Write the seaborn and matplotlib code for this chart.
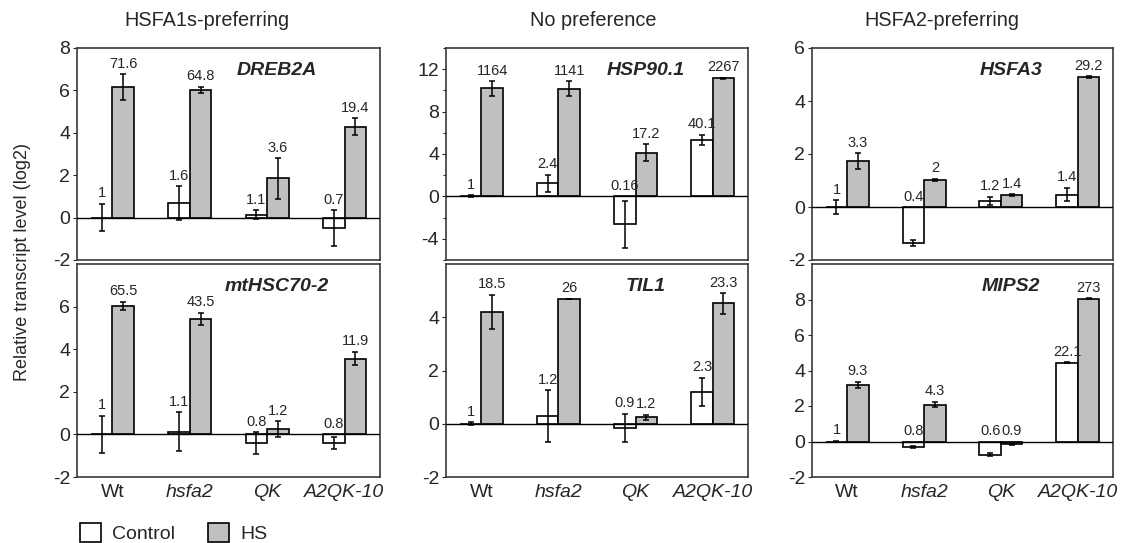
import numpy as np
import pandas as pd
import matplotlib
matplotlib.use("Agg")
import matplotlib.pyplot as plt
import seaborn as sns
from matplotlib.ticker import MultipleLocator, FixedLocator

# ---------------- data (log2 relative transcript level) ----------------
genotypes = ["Wt", "hsfa2", "QK", "A2QK-10"]
conditions = ["Control", "HS"]

# DREB2A
dreb2a_ctrl = [0.0, 0.68, 0.14, -0.51]
dreb2a_hs = [6.16, 6.02, 1.85, 4.28]
dreb2a_ctrl_err = [0.65, 0.80, 0.20, 0.85]
dreb2a_hs_err = [0.60, 0.15, 0.95, 0.40]
dreb2a_ctrl_lab = ["1", "1.6", "1.1", "0.7"]
dreb2a_hs_lab = ["71.6", "64.8", "3.6", "19.4"]

# HSP90.1
hsp90_ctrl = [0.0, 1.26, -2.64, 5.33]
hsp90_hs = [10.18, 10.16, 4.10, 11.15]
hsp90_ctrl_err = [0.10, 0.80, 2.20, 0.50]
hsp90_hs_err = [0.70, 0.70, 0.80, 0.05]
hsp90_ctrl_lab = ["1", "2.4", "0.16", "40.1"]
hsp90_hs_lab = ["1164", "1141", "17.2", "2267"]

# HSFA3
hsfa3_ctrl = [0.0, -1.35, 0.24, 0.47]
hsfa3_hs = [1.73, 1.02, 0.45, 4.90]
hsfa3_ctrl_err = [0.25, 0.12, 0.15, 0.25]
hsfa3_hs_err = [0.30, 0.04, 0.03, 0.03]
hsfa3_ctrl_lab = ["1", "0.4", "1.2", "1.4"]
hsfa3_hs_lab = ["3.3", "2", "1.4", "29.2"]

# mtHSC70-2
mthsc_ctrl = [0.0, 0.13, -0.40, -0.42]
mthsc_hs = [6.02, 5.43, 0.25, 3.56]
mthsc_ctrl_err = [0.88, 0.92, 0.50, 0.28]
mthsc_hs_err = [0.20, 0.28, 0.38, 0.32]
mthsc_ctrl_lab = ["1", "1.1", "0.8", "0.8"]
mthsc_hs_lab = ["65.5", "43.5", "1.2", "11.9"]

# TIL1
til1_ctrl = [0.0, 0.28, -0.16, 1.20]
til1_hs = [4.20, 4.69, 0.24, 4.52]
til1_ctrl_err = [0.05, 0.97, 0.53, 0.52]
til1_hs_err = [0.64, 0.0, 0.10, 0.38]
til1_ctrl_lab = ["1", "1.2", "0.9", "2.3"]
til1_hs_lab = ["18.5", "26", "1.2", "23.3"]

# MIPS2
mips2_ctrl = [0.0, -0.33, -0.75, 4.45]
mips2_hs = [3.18, 2.08, -0.14, 8.05]
mips2_ctrl_err = [0.05, 0.05, 0.08, 0.03]
mips2_hs_err = [0.18, 0.16, 0.05, 0.03]
mips2_ctrl_lab = ["1", "0.8", "0.6", "22.1"]
mips2_hs_lab = ["9.3", "4.3", "0.9", "273"]

column_titles = ["HSFA1s-preferring", "No preference", "HSFA2-preferring"]
ylabel = "Relative transcript level (log2)"

panels = [
    ("DREB2A", dreb2a_ctrl, dreb2a_hs, dreb2a_ctrl_err, dreb2a_hs_err, dreb2a_ctrl_lab, dreb2a_hs_lab),
    ("HSP90.1", hsp90_ctrl, hsp90_hs, hsp90_ctrl_err, hsp90_hs_err, hsp90_ctrl_lab, hsp90_hs_lab),
    ("HSFA3", hsfa3_ctrl, hsfa3_hs, hsfa3_ctrl_err, hsfa3_hs_err, hsfa3_ctrl_lab, hsfa3_hs_lab),
    ("mtHSC70-2", mthsc_ctrl, mthsc_hs, mthsc_ctrl_err, mthsc_hs_err, mthsc_ctrl_lab, mthsc_hs_lab),
    ("TIL1", til1_ctrl, til1_hs, til1_ctrl_err, til1_hs_err, til1_ctrl_lab, til1_hs_lab),
    ("MIPS2", mips2_ctrl, mips2_hs, mips2_ctrl_err, mips2_hs_err, mips2_ctrl_lab, mips2_hs_lab),
]
ylims = [(-2, 8), (-6, 14), (-2, 6), (-2, 8), (-2, 6), (-2, 10)]
yticks = [[-2, 0, 2, 4, 6, 8], [-4, 0, 4, 8, 12], [-2, 0, 2, 4, 6],
          [-2, 0, 2, 4, 6], [-2, 0, 2, 4], [-2, 0, 2, 4, 6, 8]]

# ---------------- style ----------------
sns.set_style("white")
plt.rcParams["font.family"] = ["Liberation Sans", "DejaVu Sans"]
plt.rcParams["axes.unicode_minus"] = False

W, H = 1131, 543
fig = plt.figure(figsize=(W / 100, H / 100), dpi=100)

col_left = [77, 446, 812]
col_w = [303, 302, 301]
row_top = [48, 264]
row_bot = [260, 477]

palette = {"Control": "white", "HS": "#c0c0c0"}
frame_col = "#3a3a3a"

axes = []
for i, (gene, c, h, ce, he, cl, hl) in enumerate(panels):
    r, col = divmod(i, 3)
    rect = [col_left[col] / W, 1 - row_bot[r] / H, col_w[col] / W, (row_bot[r] - row_top[r]) / H]
    ax = fig.add_axes(rect)
    axes.append(ax)
    df = pd.DataFrame({
        "genotype": genotypes * 2,
        "condition": ["Control"] * 4 + ["HS"] * 4,
        "value": list(c) + list(h),
    })
    sns.barplot(data=df, x="genotype", y="value", hue="condition",
                order=genotypes, hue_order=conditions, palette=palette,
                width=0.56, gap=0, errorbar=None, saturation=1,
                edgecolor="black", linewidth=1.2, ax=ax, legend=(i == 0), zorder=2)
    bar_containers = list(ax.containers)
    ax.axhline(0, color="black", lw=1.0, zorder=3)
    for cont, vals, errs, labs in zip(bar_containers, [c, h], [ce, he], [cl, hl]):
        xs = [p.get_x() + p.get_width() / 2 for p in cont.patches]
        ax.errorbar(xs, vals, yerr=errs, fmt="none", ecolor="black",
                    elinewidth=1.1, capsize=2, capthick=1.1, zorder=4)
        for x, v, e, lab in zip(xs, vals, errs, labs):
            top = max(0.0, v + e)
            ax.annotate(lab, (x, top), xytext=(0, 2.5), textcoords="offset points",
                        ha="center", va="bottom", fontsize=10.5, zorder=5)
    ax.text(0.66, 0.895, gene, transform=ax.transAxes, ha="center", va="center",
            fontsize=14, style="italic", fontweight="bold")
    ax.set_ylim(*ylims[i])
    ax.yaxis.set_major_locator(FixedLocator(yticks[i]))
    if gene == "HSP90.1":
        ax.yaxis.set_minor_locator(MultipleLocator(2))
    ax.tick_params(axis="y", which="major", direction="out", length=3, width=0.8,
                   labelsize=14, left=True, pad=2)
    ax.tick_params(axis="y", which="minor", direction="out", length=2, width=0.8, left=True)
    ax.tick_params(axis="x", length=0, labelsize=14, pad=5)
    ax.set_xlabel("")
    ax.set_ylabel("")
    for s in ax.spines.values():
        s.set_visible(True)
        s.set_color(frame_col)
        s.set_linewidth(1.2)
    if r == 0:
        ax.tick_params(axis="x", labelbottom=False)
    else:
        for t in ax.get_xticklabels():
            if t.get_text() != "Wt":
                t.set_fontstyle("italic")

# legend
handles, labels = axes[0].get_legend_handles_labels()
axes[0].get_legend().remove()
fig.legend(handles, labels, loc="lower left", bbox_to_anchor=(72 / W, 1 - 551 / H),
           ncol=2, frameon=False, fontsize=14, handlelength=1.1, handleheight=1.1,
           handletextpad=0.55, columnspacing=1.7, borderaxespad=0)

# titles and y label
title_x = [207, 593, 942]
for t, x in zip(column_titles, title_x):
    fig.text(x / W, 1 - 20 / H, t, ha="center", va="center", fontsize=14.3)
fig.text(23 / W, 1 - 262 / H, ylabel, rotation=90, ha="center", va="center", fontsize=13)

fig.savefig("out.png", dpi=100)
